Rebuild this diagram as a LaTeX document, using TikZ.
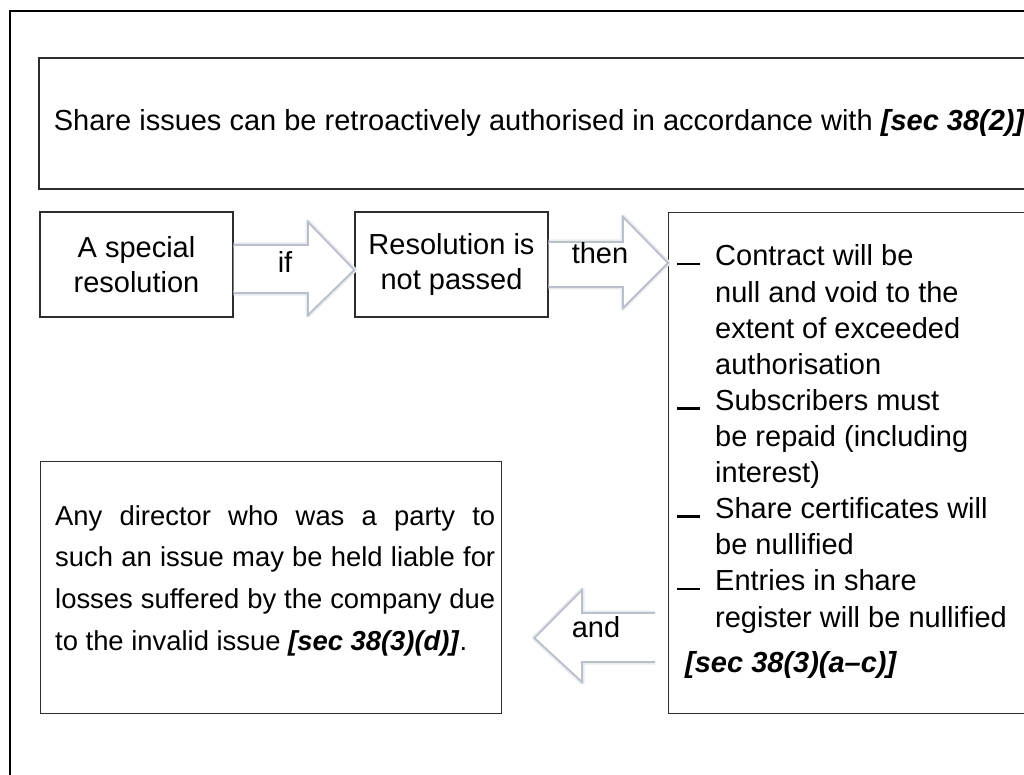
\documentclass[tikz,border=0pt]{standalone}
\usepackage{fontspec}
\setmainfont{Liberation Sans}
\usetikzlibrary{calc}
\definecolor{arrowline}{RGB}{186,192,203}
\definecolor{arrowshadow}{RGB}{232,234,238}
\definecolor{boxline}{RGB}{45,45,45}
\newcommand{\consbullet}{\makebox[38pt][l]{\rule[0.5pt]{23pt}{2.8pt}}}
\tikzset{
  box/.style={draw=boxline, line width=1.4pt, fill=white, inner sep=0pt, align=center, font=\fontsize{29pt}{35pt}\selectfont},
  blockarrowfill/.style={fill=white, draw=none},
  blockarrowline/.style={draw=arrowline, line width=1.8pt, line join=miter},
  arrowshadowline/.style={draw=arrowshadow, line width=5pt, line join=round},
  lbl/.style={inner sep=0pt, font=\fontsize{29pt}{35pt}\selectfont},
}
\begin{document}
\begin{tikzpicture}[x=1pt,y=-1pt]
\useasboundingbox (0,0) rectangle (1024,775);
\clip (0,0) rectangle (1024,775);
\fill[white] (0,0) rectangle (1024,775);
\draw[line width=1.4pt, black] (10,800) -- (10,11) -- (1040,11);

\node[box, minimum width=1001pt, minimum height=131pt] (top) at (539.5,123.5)
  {Share issues can be retroactively authorised in accordance with \textbf{\textit{[sec 38(2)]}}};

\node[box, minimum width=193pt, minimum height=105pt] (sp) at (136.5,264.5) {A special\\resolution};
\node[box, minimum width=193pt, minimum height=105pt] (rnp) at (451.5,264.5) {Resolution is\\not passed};
\node[box, minimum width=372pt, minimum height=501pt, anchor=north west] (cons) at (668,212) {};
\node[box, minimum width=461pt, minimum height=252pt, anchor=north west] (dir) at (40,461) {};

\node[lbl, anchor=base west] (constext) at (677,266) {\parbox[t]{345pt}{\fontsize{29pt}{36.1pt}\selectfont\raggedright
\consbullet Contract will be\\
\hspace*{38pt}null and void to the\\
\hspace*{38pt}extent of exceeded\\
\hspace*{38pt}authorisation\\
\consbullet Subscribers must\\
\hspace*{38pt}be repaid (including\\
\hspace*{38pt}interest)\\
\consbullet Share certificates will\\
\hspace*{38pt}be nullified\\
\consbullet Entries in share\\
\hspace*{38pt}register will be nullified\\[9pt]
\hspace*{8pt}\textbf{\textit{[sec 38(3)(a–c)]}}}};

\node[lbl, anchor=base west] (dirtext) at (55,525) {\parbox[t]{440pt}{\fontsize{27.4pt}{41.7pt}\selectfont
Any director who was a party to\linebreak such an issue may be held liable for\linebreak losses suffered by the company due\linebreak to the invalid issue \textbf{\textit{[sec 38(3)(d)]}}.}};

% if arrow
\draw[arrowshadowline] (sp.east |- 0,245) -- (308,245) -- (308,222) -- (rnp.west |- 0,270) -- (308,315) -- (308,293) -- (sp.east |- 0,293);
\path[blockarrowfill] (sp.east |- 0,245) -- (308,245) -- (308,222) -- (rnp.west |- 0,270) -- (308,315) -- (308,293) -- (sp.east |- 0,293) -- cycle;
\draw[blockarrowline] (sp.east |- 0,245) -- (308,245) -- (308,222) -- (rnp.west |- 0,270) -- (308,315) -- (308,293) -- (sp.east |- 0,293);
\node[lbl] (iflbl) at (285,262) {if};

% then arrow
\draw[arrowshadowline] (rnp.east |- 0,242) -- (623,242) -- (623,217) -- (cons.west |- 0,263) -- (623,308) -- (623,287) -- (rnp.east |- 0,287);
\path[blockarrowfill] (rnp.east |- 0,242) -- (623,242) -- (623,217) -- (cons.west |- 0,263) -- (623,308) -- (623,287) -- (rnp.east |- 0,287) -- cycle;
\draw[blockarrowline] (rnp.east |- 0,242) -- (623,242) -- (623,217) -- (cons.west |- 0,263) -- (623,308) -- (623,287) -- (rnp.east |- 0,287);
\node[lbl] (thenlbl) at (600,253) {then};

% and arrow
\coordinate (andtailT) at ($(cons.west |- 0,613)+(-13,0)$);
\coordinate (andtailB) at ($(cons.west |- 0,662)+(-13,0)$);
\coordinate (andtip) at ($(dir.east |- 0,638)+(32,0)$);
\draw[arrowshadowline] (andtailT) -- (582,613) -- (582,590) -- (andtip) -- (582,682) -- (582,662) -- (andtailB);
\path[blockarrowfill] (andtailT) -- (582,613) -- (582,590) -- (andtip) -- (582,682) -- (582,662) -- (andtailB) -- cycle;
\draw[blockarrowline] (andtailT) -- (582,613) -- (582,590) -- (andtip) -- (582,682) -- (582,662) -- (andtailB);
\node[lbl] (andlbl) at (596,627) {and};
\end{tikzpicture}
\end{document}
